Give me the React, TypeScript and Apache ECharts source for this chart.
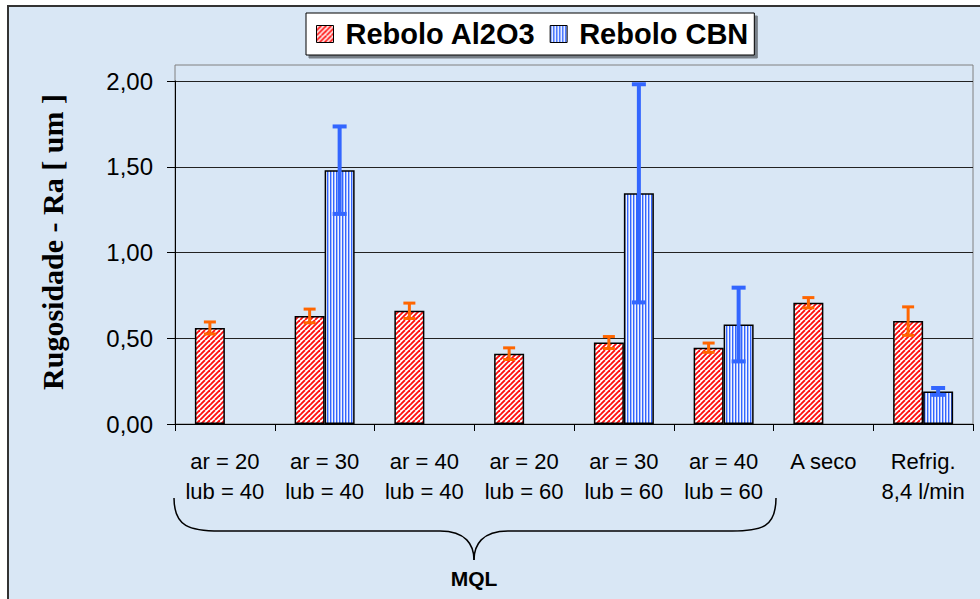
import React, { useEffect, useRef } from 'react';
import * as echarts from 'echarts';

const categories = [
  'ar = 20\nlub = 40',
  'ar = 30\nlub = 40',
  'ar = 40\nlub = 40',
  'ar = 20\nlub = 60',
  'ar = 30\nlub = 60',
  'ar = 40\nlub = 60',
  'A seco',
  'Refrig.\n8,4 l/min',
];
const seriesNames = ['Rebolo Al2O3', 'Rebolo CBN'];
const al2o3Values = [0.56, 0.63, 0.66, 0.41, 0.475, 0.445, 0.707, 0.6];
const al2o3Errors = [0.035, 0.04, 0.045, 0.034, 0.035, 0.027, 0.03, 0.083];
const cbnValues: (number | null)[] = [null, 1.48, null, null, 1.345, 0.58, null, 0.19];
const cbnErrors: (number | null)[] = [null, 0.255, null, null, 0.636, 0.215, null, 0.02];
const yTicks = { min: 0, max: 2, interval: 0.5 };
const yTitle = 'Rugosidade - Ra [ um ]';
const groupLabel = 'MQL';

function redPattern() {
  const n = 10;
  const c = document.createElement('canvas');
  c.width = n;
  c.height = n;
  const g = c.getContext('2d')!;
  g.fillStyle = '#ffffff';
  g.fillRect(0, 0, n, n);
  g.strokeStyle = '#ff1010';
  g.lineWidth = 1.9;
  for (const o of [-n, -n / 2, 0, n / 2, n]) {
    g.beginPath();
    g.moveTo(o, n);
    g.lineTo(o + n, 0);
    g.stroke();
  }
  return c;
}

function bluePattern() {
  const c = document.createElement('canvas');
  c.width = 3;
  c.height = 4;
  const g = c.getContext('2d')!;
  g.fillStyle = '#f2f5ff';
  g.fillRect(0, 0, 3, 4);
  g.fillStyle = '#3366ff';
  g.fillRect(0, 0, 1.4, 4);
  return c;
}

function errorSeries(name: string, values: (number | null)[], errors: (number | null)[], offset: number, color: string, lw: number, cap: number) {
  const data: number[][] = [];
  values.forEach((v, i) => {
    const e = errors[i];
    if (v != null && e != null) data.push([i, v, e]);
  });
  return {
    type: 'custom',
    name,
    z: 5,
    data,
    encode: { x: 0, y: 1 },
    renderItem: (_p: any, api: any) => {
      const i = api.value(0);
      const v = api.value(1);
      const e = api.value(2);
      const top = api.coord([i, v + e]);
      const bot = api.coord([i, v - e]);
      const x = top[0] + offset;
      const style = { stroke: color, lineWidth: lw, fill: 'none' };
      return {
        type: 'group',
        children: [
          { type: 'line', shape: { x1: x, y1: top[1], x2: x, y2: bot[1] }, style },
          { type: 'line', shape: { x1: x - cap, y1: top[1], x2: x + cap, y2: top[1] }, style },
          { type: 'line', shape: { x1: x - cap, y1: bot[1], x2: x + cap, y2: bot[1] }, style },
        ],
      };
    },
  };
}

export default function App() {
  const ref = useRef<HTMLDivElement>(null);
  useEffect(() => {
    document.body.style.margin = '0';
    const chart = echarts.init(ref.current!, undefined, { renderer: 'svg' });
    const redFill = { image: redPattern(), repeat: 'repeat' } as any;
    const blueFill = { image: bluePattern(), repeat: 'repeat' } as any;
    const braceStyle = { stroke: '#000', lineWidth: 1.5, fill: 'none' };
    chart.setOption({
      animation: false,
      backgroundColor: '#ffffff',
      grid: { left: 175, right: 7, top: 81, bottom: 175, containLabel: false },
      legend: {
        data: seriesNames,
        left: 306,
        top: 13,
        icon: 'rect',
        itemWidth: 17,
        itemHeight: 17,
        itemGap: 14,
        padding: [6, 6, 6, 10],
        backgroundColor: '#ffffff',
        borderColor: '#000000',
        borderWidth: 1,
        shadowColor: 'rgba(0,0,0,0.45)',
        shadowOffsetX: 3,
        shadowOffsetY: 3,
        shadowBlur: 1,
        itemStyle: { borderColor: '#000', borderWidth: 1 },
        textStyle: {
          fontFamily: 'Liberation Sans',
          fontWeight: 'bold',
          fontSize: 29,
          color: '#000',
          lineHeight: 30,
          padding: [0, 0, 0, 7],
        },
      },
      xAxis: {
        type: 'category',
        data: categories,
        axisLine: { lineStyle: { color: '#000', width: 1 } },
        axisTick: { show: true, alignWithLabel: false, length: 7, lineStyle: { color: '#000' } },
        axisLabel: {
          interval: 0,
          margin: 22,
          fontFamily: 'Liberation Sans',
          fontSize: 22,
          lineHeight: 30,
          color: '#000',
        },
        splitLine: { show: false },
      },
      yAxis: {
        type: 'value',
        min: yTicks.min,
        max: yTicks.max,
        interval: yTicks.interval,
        axisLine: { show: true, lineStyle: { color: '#000', width: 1 } },
        axisTick: { show: true, length: 8, lineStyle: { color: '#000' } },
        axisLabel: {
          margin: 22,
          fontFamily: 'Liberation Sans',
          fontSize: 24,
          color: '#000',
          formatter: (v: number) => v.toFixed(2).replace('.', ','),
        },
        splitLine: { show: true, lineStyle: { color: '#222', width: 1 } },
      },
      series: [
        {
          type: 'bar',
          name: seriesNames[0],
          data: al2o3Values,
          barWidth: 30,
          barGap: '0%',
          itemStyle: { color: redFill, borderColor: '#000', borderWidth: 1.5 },
        },
        {
          type: 'bar',
          name: seriesNames[1],
          data: cbnValues,
          barWidth: 30,
          barGap: '0%',
          itemStyle: { color: blueFill, borderColor: '#000', borderWidth: 1.5 },
        },
        errorSeries('errA', al2o3Values, al2o3Errors, -15, '#ff6600', 3, 6),
        errorSeries('errB', cbnValues, cbnErrors, 15, '#3366ff', 4, 7),
      ],
      graphic: [
        {
          type: 'rect',
          z: -100,
          silent: true,
          shape: { x: 8, y: 6, width: 990, height: 610 },
          style: { fill: '#d9e7f5', stroke: '#333', lineWidth: 2 },
        },
        {
          type: 'rect',
          z: -90,
          silent: true,
          shape: { x: 175, y: 65, width: 798, height: 359 },
          style: { fill: 'none', stroke: '#808080', lineWidth: 1 },
        },
        {
          type: 'text',
          x: 52,
          y: 242,
          rotation: Math.PI / 2,
          style: {
            text: yTitle,
            font: 'bold 30px "Liberation Serif"',
            fill: '#000',
            align: 'center',
            verticalAlign: 'middle',
          },
        },
        {
          type: 'text',
          x: 474,
          y: 578,
          style: {
            text: groupLabel,
            font: 'bold 21px "Liberation Sans"',
            fill: '#000',
            align: 'center',
            verticalAlign: 'middle',
          },
        },
        { type: 'bezierCurve', shape: { x1: 174, y1: 498, cpx1: 174, cpy1: 527, cpx2: 190, cpy2: 531, x2: 220, y2: 531 }, style: braceStyle },
        { type: 'line', shape: { x1: 220, y1: 531, x2: 440, y2: 531 }, style: braceStyle },
        { type: 'bezierCurve', shape: { x1: 440, y1: 531, cpx1: 466, cpy1: 531, cpx2: 474, cpy2: 545, x2: 474, y2: 560 }, style: braceStyle },
        { type: 'bezierCurve', shape: { x1: 508, y1: 531, cpx1: 482, cpy1: 531, cpx2: 474, cpy2: 545, x2: 474, y2: 560 }, style: braceStyle },
        { type: 'line', shape: { x1: 508, y1: 531, x2: 732, y2: 531 }, style: braceStyle },
        { type: 'bezierCurve', shape: { x1: 732, y1: 531, cpx1: 762, cpy1: 531, cpx2: 776, cpy2: 527, x2: 776, y2: 498 }, style: braceStyle },
      ],
    });
    return () => chart.dispose();
  }, []);
  return <div ref={ref} style={{ width: 980, height: 599 }} />;
}
